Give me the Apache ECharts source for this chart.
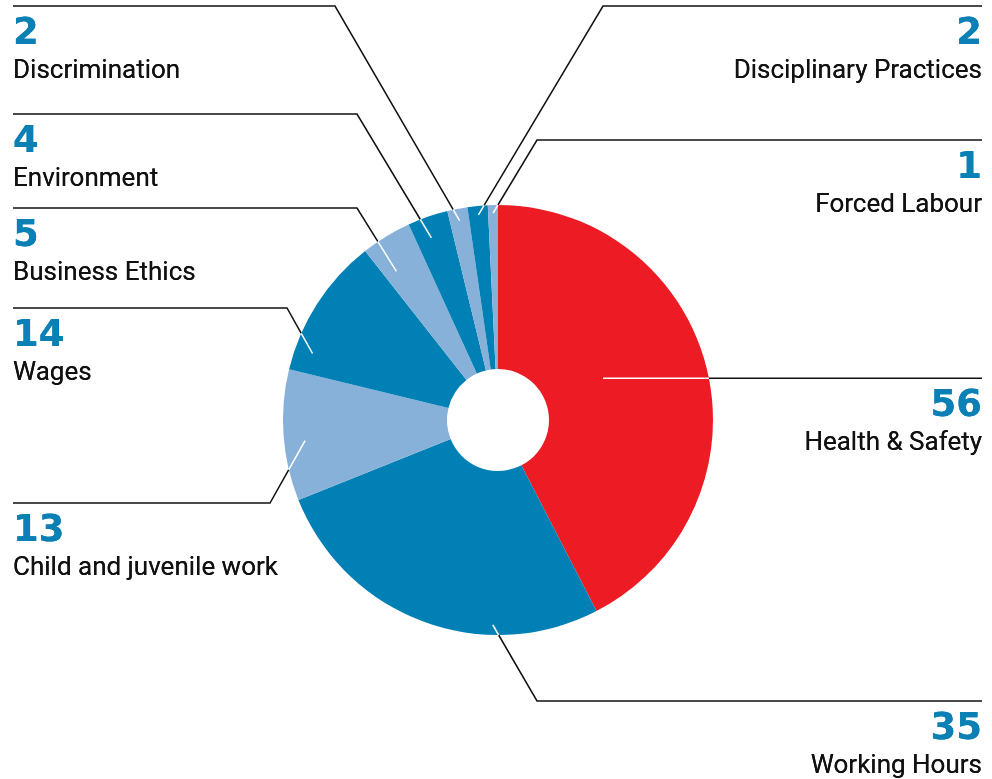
<!DOCTYPE html>
<html>
<head>
<meta charset="utf-8">
<script src="https://cdn.jsdelivr.net/npm/echarts@6/dist/echarts.min.js"></script>
<style>
html,body{margin:0;padding:0;background:#fff;}
#chart{width:992px;height:779px;}
</style>
</head>
<body>
<div id="chart"></div>
<script>
// ---- data ----
var categories = ['Health & Safety','Working Hours','Child and juvenile work','Wages','Business Ethics','Environment','Discrimination','Disciplinary Practices','Forced Labour'];
var values = [56, 35, 13, 14, 5, 4, 2, 2, 1];

// ---- styling / layout (not data) ----
var sliceColors = ['#ED1C24','#0080B4','#88B1D9','#0080B4','#88B1D9','#0080B4','#88B1D9','#0080B4','#88B1D9'];
var labelSide = ['right','right','left','left','left','left','left','right','right'];
var lineYs    = [null, 701, 503, 308, 208, 114, 6, 6, 140];
var elbowXs   = [null, 537, 270, 287, 357, 357, 335, 603, 537];
var anchorShift = [-8, -19, -2, -13, -3, -1, 0, 0, 0];
var anchorR   = [113, 205, 194, 197, 180, 194, 203, 206, 207];
var CX = 498, CY = 420, R_IN = 51, R_OUT = 215;
var LEFT_X = 13, RIGHT_X = 982, LABEL_DY = 10;

var total = values.reduce(function(a,b){return a+b;},0);
var cum = [];
(function(){var s=0; for (var i=0;i<values.length;i++){cum.push(s); s+=values[i];}})();

function geom(i){
  var mid = (cum[i] + values[i]/2) / total * 360 + anchorShift[i];
  var a = mid * Math.PI / 180;
  var ax = CX + anchorR[i] * Math.sin(a);
  var ay = CY - anchorR[i] * Math.cos(a);
  var side = labelSide[i];
  var endX = side === 'left' ? LEFT_X : RIGHT_X;
  var ex, ey;
  if (elbowXs[i] == null) { ex = endX; ey = ay; } else { ex = elbowXs[i]; ey = lineYs[i]; }
  var dx = ex - ax, dy = ey - ay;
  var fx = ax - CX, fy = ay - CY;
  var A = dx*dx + dy*dy, B = 2*(fx*dx + fy*dy), C = fx*fx + fy*fy - R_OUT*R_OUT;
  var t = (-B + Math.sqrt(B*B - 4*A*C)) / (2*A);
  var px = ax + t*dx, py = ay + t*dy;
  var lineY = elbowXs[i] == null ? ay : lineYs[i];
  return {
    anchor: [ax, ay], edge: [px, py], elbow: [ex, ey], end: [endX, lineY],
    lineY: lineY, side: side, endX: endX
  };
}

var pieData = categories.map(function(n,i){
  return { name: n, value: values[i], itemStyle: { color: sliceColors[i] } };
});
var ghostData = categories.map(function(n,i){
  return { name: n, value: values[i] };
});

function fmt(p){
  var s = labelSide[p.dataIndex] === 'left' ? 'L' : 'R';
  return '{num' + s + '|' + p.value + '}\n{name' + s + '|' + p.name + '}';
}
var rich = {
  numL: {fontFamily:'DejaVu Sans', fontWeight:'bold', fontSize:37, color:'#0A80B4', lineHeight:36, align:'left'},
  nameL:{fontFamily:'Roboto', fontSize:26, color:'#111111', lineHeight:38, align:'left'},
  numR: {fontFamily:'DejaVu Sans', fontWeight:'bold', fontSize:37, color:'#0A80B4', lineHeight:36, align:'right'},
  nameR:{fontFamily:'Roboto', fontSize:26, color:'#111111', lineHeight:38, align:'right'}
};

var chart = echarts.init(document.getElementById('chart'), null, {renderer:'canvas'});
chart.setOption({
  animation: false,
  backgroundColor: '#ffffff',
  series: [
    {
      type: 'pie',
      z: 2,
      center: [CX, CY],
      radius: [R_IN, R_OUT],
      startAngle: 90,
      clockwise: true,
      avoidLabelOverlap: false,
      silent: true,
      itemStyle: { borderWidth: 0 },
      emphasis: { disabled: true },
      label: { show: true, position: 'outside', formatter: fmt, rich: rich },
      labelLine: { show: true, length: 10, length2: 10, lineStyle: { color: '#111111', width: 1.5 } },
      labelLayout: function(params){
        var g = geom(params.dataIndex);
        return {
          x: g.endX, y: g.lineY + LABEL_DY, align: g.side, verticalAlign: 'top',
          labelLinePoints: [g.edge, g.elbow, g.end]
        };
      },
      data: pieData
    },
    {
      type: 'pie',
      z: 3,
      center: [CX, CY],
      radius: [R_IN, R_OUT],
      startAngle: 90,
      clockwise: true,
      avoidLabelOverlap: false,
      silent: true,
      itemStyle: { color: 'rgba(0,0,0,0)', borderWidth: 0 },
      emphasis: { disabled: true },
      label: { show: true, position: 'outside', formatter: fmt, rich: rich, color: 'rgba(0,0,0,0)',
        textBorderWidth: 0 },
      labelLine: { show: true, showAbove: true, length: 10, length2: 10, lineStyle: { color: '#ffffff', width: 1.5 } },
      labelLayout: function(params){
        var g = geom(params.dataIndex);
        return {
          x: g.endX, y: g.lineY + LABEL_DY, align: g.side, verticalAlign: 'top',
          labelLinePoints: [g.anchor, g.anchor, g.edge]
        };
      },
      data: ghostData
    }
  ]
});
</script>
</body>
</html>
